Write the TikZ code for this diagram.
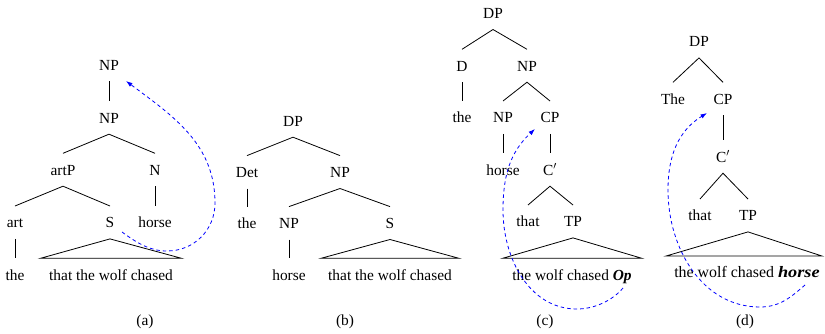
\documentclass[tikz,border=0pt]{standalone}
\usepackage{fontspec}
\setmainfont{Liberation Serif}
\usetikzlibrary{arrows.meta}
\begin{document}
\begin{tikzpicture}[x=1pt,y=-1pt,
  lab/.style={anchor=base,inner xsep=0pt,inner ysep=11pt,text height=10.5pt,text depth=0pt,font=\fontsize{15.4}{18}\selectfont},
  br/.style={line width=0.8pt},
  mv/.style={blue,line width=0.8pt,dash pattern=on 3.5pt off 3pt,-{Latex[length=6.5pt,width=4.5pt]}},
  captext/.style={anchor=base,inner sep=0pt,font=\fontsize{15.4}{18}\selectfont}]
\useasboundingbox (0,0) rectangle (825,333);

% ---------- (a)
\node[lab] (aNP1) at (109,70) {NP};
\node[lab] (aNP2) at (109,123) {NP};
\node[lab] (aartP) at (63,175) {artP};
\node[lab] (aN) at (155,175) {N};
\node[lab] (aart) at (15,227.7) {art};
\node[lab] (aS) at (110,227.7) {S};
\node[lab] (ahorse) at (155,227.7) {horse};
\node[lab] (athe) at (15,280) {the};
\node[lab] (atxt) at (111,280) {that the wolf chased};
\draw[br] (aNP1.south) -- (aNP2.north);
\draw[br] (aartP.north) -- (aNP2.south) -- (aN.north);
\draw[br] (aart.north) -- (aartP.south) -- (aS.north);
\draw[br] (aN.south) -- (ahorse.north);
\draw[br] (aart.south) -- (athe.north);
\draw[br] (aS.south) -- ([xshift=8.5pt]atxt.north east) -- ([xshift=-8.5pt]atxt.north west) -- cycle;
\coordinate (aFrom) at (122,232);
\coordinate (aTo) at (126,81);
\draw[mv] (aFrom) .. controls (137,243) and (150,251) .. (167,251)
  .. controls (194,251) and (215,230) .. (215,203)
  .. controls (215,144) and (173,116) .. (aTo);
\node[captext] (acap) at (145,325) {(a)};

% ---------- (b)
\node[lab] (bDP) at (293,126) {DP};
\node[lab] (bDet) at (247,177.3) {Det};
\node[lab] (bNP1) at (340,177.3) {NP};
\node[lab] (bthe) at (247,228.3) {the};
\node[lab] (bNP2) at (289,228.3) {NP};
\node[lab] (bS) at (390,228.3) {S};
\node[lab] (bhorse) at (289,280) {horse};
\node[lab] (btxt) at (390,280) {that the wolf chased};
\draw[br] (bDet.north) -- (bDP.south) -- (bNP1.north);
\draw[br] (bDet.south) -- (bthe.north);
\draw[br] (bNP2.north) -- (bNP1.south) -- (bS.north);
\draw[br] (bNP2.south) -- (bhorse.north);
\draw[br] (bS.south) -- ([xshift=7pt]btxt.north east) -- ([xshift=-7pt]btxt.north west) -- cycle;
\node[captext] (bcap) at (345,325) {(b)};

% ---------- (c)
\node[lab] (cDP) at (493,18.3) {DP};
\node[lab] (cD) at (462,71) {D};
\node[lab] (cNP1) at (527,71) {NP};
\node[lab] (cthe) at (462,122.7) {the};
\node[lab] (cNP2) at (503,122.7) {NP};
\node[lab] (cCP) at (550,122.7) {CP};
\node[lab] (chorse) at (503,175) {horse};
\node[lab] (cCb) at (550,175) {C$'$};
\node[lab] (cthat) at (528,226.7) {that};
\node[lab] (cTP) at (573,226.7) {TP};
\node[lab] (ctxt) at (572,280) {the wolf chased \textbf{\textit{Op}}};
\draw[br] (cD.north) -- (cDP.south) -- (cNP1.north);
\draw[br] (cD.south) -- (cthe.north);
\draw[br] (cNP2.north) -- (cNP1.south) -- (cCP.north);
\draw[br] (cNP2.south) -- (chorse.north);
\draw[br] (cCP.south) -- (cCb.north);
\draw[br] (cthat.north) -- (cCb.south) -- (cTP.north);
\draw[br] (cTP.south) -- ([xshift=10pt]ctxt.north east) -- ([xshift=-9.5pt]ctxt.north west) -- cycle;
\coordinate (cFrom) at (623,288);
\coordinate (cTo) at (535,129);
\draw[mv] (cFrom) .. controls (613,300) and (595,309) .. (577,309)
  .. controls (529,309) and (503,258) .. (503,210)
  .. controls (503,176) and (510,152) .. (cTo);
\node[captext] (ccap) at (545,325) {(c)};

% ---------- (d)
\node[lab] (dDP) at (699,46.7) {DP};
\node[lab] (dThe) at (673,104) {The};
\node[lab] (dCP) at (723,104) {CP};
\node[lab] (dCb) at (723,162) {C$'$};
\node[lab] (dthat) at (700,220.7) {that};
\node[lab] (dTP) at (748,220.7) {TP};
\node[lab,font=\fontsize{15.9}{18}\selectfont] (dtxt) at (747,277.7) {the wolf chased \scalebox{1.15}[1]{\textbf{\textit{horse}}}};
\draw[br] (dThe.north) -- (dDP.south) -- (dCP.north);
\draw[br] (dCP.south) -- (dCb.north);
\draw[br] (dthat.north) -- (dCb.south) -- (dTP.north);
\draw[br] (dTP.south) -- ([xshift=2pt]dtxt.north east) -- ([xshift=-8pt]dtxt.north west) -- cycle;
\coordinate (dFrom) at (805,285);
\coordinate (dTo) at (707,113);
\draw[mv] (dFrom) .. controls (791,297) and (780,307) .. (760,307)
  .. controls (702,307) and (668,248) .. (668,190)
  .. controls (668,156) and (678,131) .. (dTo);
\node[captext] (dcap) at (745,325) {(d)};
\end{tikzpicture}
\end{document}
